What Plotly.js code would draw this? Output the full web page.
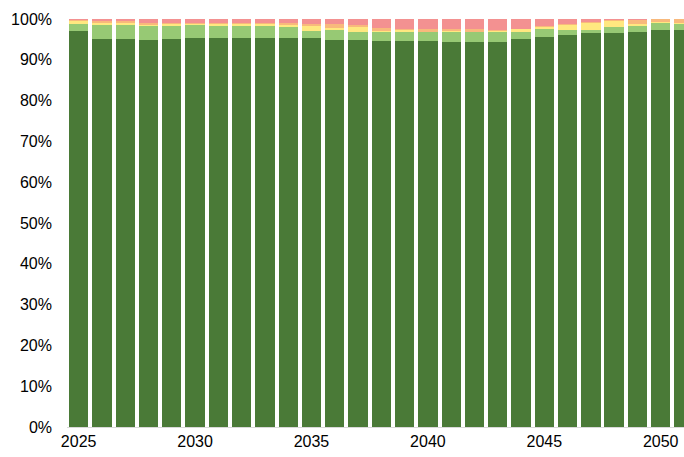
<!DOCTYPE html>
<html>
<head>
<meta charset="utf-8">
<script src="https://cdn.plot.ly/plotly-3.0.1.min.js"></script>
<style>html,body{margin:0;padding:0;background:#fff;}#chart{width:684px;height:457px;}</style>
</head>
<body>
<div id="chart"></div>
<script>
const years = [2025,2026,2027,2028,2029,2030,2031,2032,2033,2034,2035,2036,2037,2038,2039,2040,2041,2042,2043,2044,2045,2046,2047,2048,2049,2050,2051];
const darkGreen  = [97.1,95.1,95.0,94.85,95.1,95.3,95.4,95.4,95.4,95.4,95.3,94.8,94.8,94.6,94.5,94.5,94.4,94.4,94.4,95.0,95.7,96.1,96.6,96.6,96.8,97.3,97.3];
const lightGreen = [1.7,3.5,3.6,3.5,3.2,3.2,2.9,2.9,2.8,2.7,1.7,2.5,2.0,2.1,2.2,2.2,2.4,2.4,2.5,1.9,1.9,1.15,0.75,1.55,1.5,1.65,1.5];
const yellow     = [0.6,0.35,0.3,0.3,0.55,0.3,0.4,0.5,0.55,0.35,1.2,0.4,1.2,0.4,0.55,0.2,0.25,0.1,0.1,0.65,0.4,1.3,1.65,1.4,0.5,0.3,0.2];
const orange     = [0.3,0.6,0.6,0.4,0.15,0.25,0.3,0.25,0.25,0.5,0.5,1.05,0.5,0.6,0.4,0.7,0.5,0.7,0.3,0.0,0.3,0.15,0.15,0.1,1.0,0.75,1.0];
const red        = [0.3,0.5,0.5,0.9,1.0,0.9,1.0,1.0,1.0,1.05,1.3,1.25,1.5,2.3,2.35,2.4,2.45,2.4,2.7,2.45,1.7,1.3,0.85,0.35,0.2,0.0,0.0];
const tickYears = [2025,2030,2035,2040,2045,2050];
const tickLabels = ['2025','2030','2035','2040','2045','2050'];
const yTicks = [0,10,20,30,40,50,60,70,80,90,100];

const series = [
  {name:'A', y:darkGreen, color:'#4a7a37'},
  {name:'B', y:lightGreen, color:'#97c974'},
  {name:'C', y:yellow, color:'#ffe880'},
  {name:'D', y:orange, color:'#f8b97c'},
  {name:'E', y:red, color:'#f39191'}
];
const traces = series.map(s => ({
  type:'bar', x:years, y:s.y, name:s.name,
  marker:{color:s.color, line:{width:0}}, hoverinfo:'skip'
}));

const layout = {
  width:684, height:457,
  margin:{l:67, r:0, t:19, b:30},
  barmode:'stack', bargap:0.17,
  showlegend:false,
  paper_bgcolor:'#fff', plot_bgcolor:'#fff',
  font:{family:'Liberation Sans, Arial, sans-serif', size:16, color:'#000'},
  xaxis:{
    range:[2024.5, 2051.0],
    tickvals:tickYears, ticktext:tickLabels,
    ticks:'', showgrid:false, zeroline:false,
    showline:true, linecolor:'#d9d9d9', linewidth:1,
    tickfont:{size:16}, automargin:false
  },
  yaxis:{
    range:[0,100], tickvals:yTicks, ticktext:yTicks.map(v => v + '%'),
    ticks:'', showgrid:false, zeroline:false, showline:false,
    tickfont:{size:16}, automargin:false, ticklabelstandoff:14
  }
};
Plotly.newPlot('chart', traces, layout, {displayModeBar:false, staticPlot:true});
</script>
</body>
</html>
